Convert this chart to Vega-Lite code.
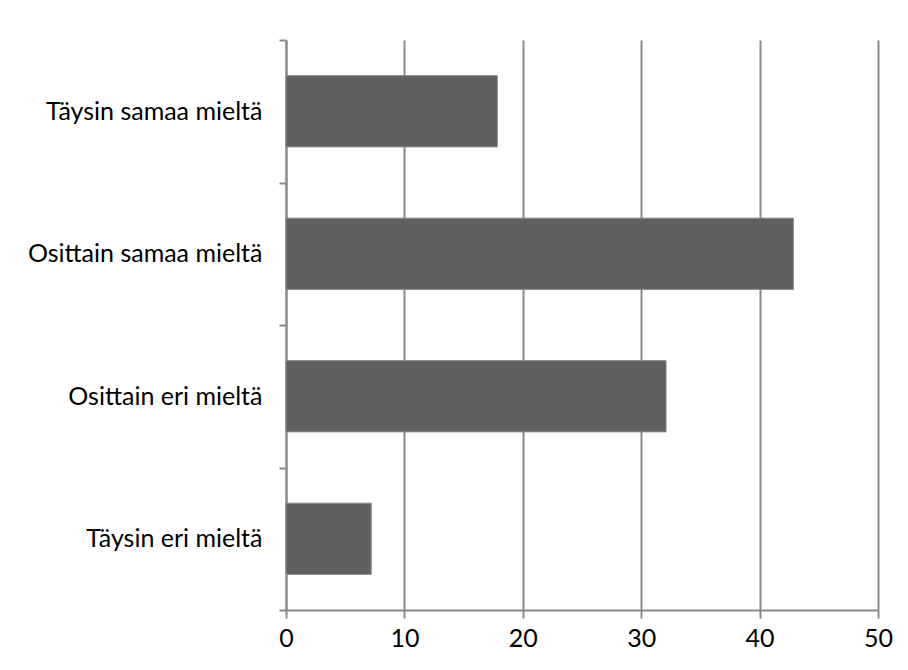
{
  "$schema": "https://vega.github.io/schema/vega-lite/v6.json",
  "autosize": {"type": "none"},
  "width": 592,
  "height": 570,
  "padding": {"left": 286, "top": 40, "right": 30, "bottom": 60},
  "background": "white",
  "config": {"view": {"stroke": null}, "font": "Lato"},
  "data": {"values": [
    {"vastaus": "Täysin samaa mieltä", "arvo": 17.85},
    {"vastaus": "Osittain samaa mieltä", "arvo": 42.85},
    {"vastaus": "Osittain eri mieltä", "arvo": 32.1},
    {"vastaus": "Täysin eri mieltä", "arvo": 7.2}
  ]},
  "mark": {"type": "bar", "color": "#606060", "stroke": "#8a8a8a", "strokeWidth": 1, "height": {"band": 0.5}},
  "encoding": {
    "y": {
      "field": "vastaus", "type": "nominal", "sort": null,
      "scale": {"paddingInner": 0, "paddingOuter": 0},
      "axis": {
        "title": null, "tickBand": "extent", "tickSize": 7, "tickColor": "#8a8a8a", "tickWidth": 2,
        "domainColor": "#8a8a8a", "domainWidth": 2, "labelFontSize": 25, "labelColor": "#000000",
        "labelPadding": 17, "labelFont": "Lato", "grid": false, "labelLimit": 300
      }
    },
    "x": {
      "field": "arvo", "type": "quantitative",
      "scale": {"domain": [0, 50], "nice": false},
      "axis": {
        "title": null, "values": [0, 10, 20, 30, 40, 50], "grid": true, "gridColor": "#8a8a8a", "gridWidth": 2, "gridOpacity": 1,
        "tickSize": 8, "tickColor": "#8a8a8a", "tickWidth": 2, "domainColor": "#8a8a8a", "domainWidth": 2,
        "labelFontSize": 25, "labelColor": "#000000", "labelPadding": 8, "labelFont": "Lato", "labelFlush": false
      }
    }
  }
}
